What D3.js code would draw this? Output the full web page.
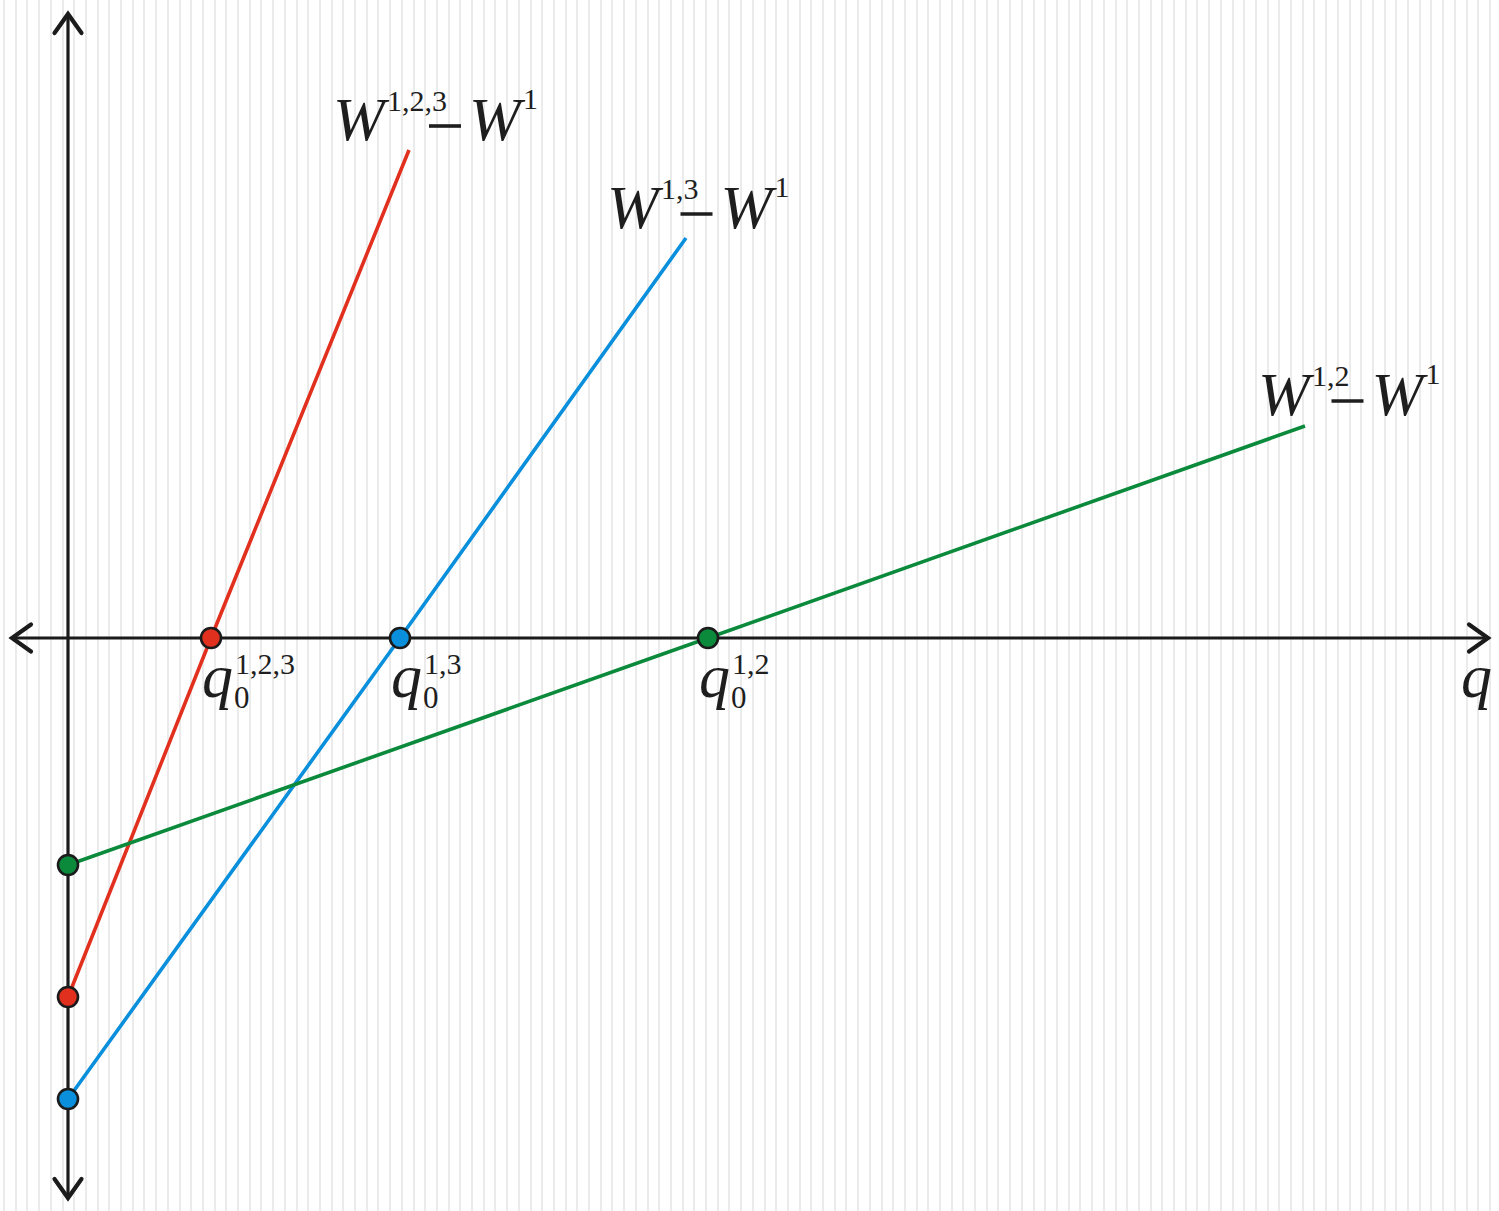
<!DOCTYPE html>
<html>
<head>
<meta charset="utf-8">
<script src="https://cdn.jsdelivr.net/npm/d3@7"></script>
<style>
  html, body { margin: 0; padding: 0; background: #ffffff; }
  svg { display: block; }
  .math { font-family: "Liberation Serif", "Tinos", "DejaVu Serif", serif; fill: #1e1e1e; }
</style>
</head>
<body>
<script>
// Payoff-difference lines W^{S} - W^{1} as functions of q
const seriesKeys   = ["1,2,3", "1,3", "1,2"];
const seriesColors = ["#e2301f", "#0a8fdc", "#0b8a3c"];
const intercepts   = [-3.59, -4.61, -2.27];   // value at q = 0
const roots        = [1.43, 3.32, 6.40];      // q0 where the difference is zero
const endQ         = [3.41, 6.18, 12.37];     // last q drawn
const endW         = [4.88, 4.00, 2.12];      // value at last q drawn

const W = 1499, H = 1211;
const svg = d3.select("body").append("svg").attr("width", W).attr("height", H);

const x = d3.scaleLinear().domain([0, 14.2]).range([68, 1488]);
const y = d3.scaleLinear().domain([-5.6, 6.24]).range([1198, 14]);

// striped paper background
svg.append("rect").attr("width", W).attr("height", H).attr("fill", "#ffffff");
svg.append("g").selectAll("rect")
  .data(d3.range(3, W, 11.7).map(Math.round))
  .join("rect")
  .attr("x", d => d).attr("y", 0)
  .attr("width", 2).attr("height", H)
  .attr("fill", "#ebebeb");

const ink = "#1b1b1b";
const axes = svg.append("g").attr("stroke", ink).attr("fill", "none")
  .attr("stroke-width", 3.2).attr("stroke-linecap", "round").attr("stroke-linejoin", "miter");

// axes
axes.append("line").attr("x1", x(0)).attr("x2", x(0)).attr("y1", y(6.24)).attr("y2", y(-5.6));
axes.append("line").attr("x1", 12).attr("x2", x(14.2)).attr("y1", y(0)).attr("y2", y(0));

// open arrowheads
const arm = 19, spread = 13.5;
function arrow(tx, ty, dx, dy) {
  // (dx,dy) unit vector pointing toward the tip
  const px = -dy, py = dx;
  const p = d3.path();
  p.moveTo(tx - dx * arm + px * spread, ty - dy * arm + py * spread);
  p.lineTo(tx, ty);
  p.lineTo(tx - dx * arm - px * spread, ty - dy * arm - py * spread);
  axes.append("path").attr("d", p.toString()).attr("stroke-width", 4.2);
}
arrow(x(0), y(6.24), 0, -1);
arrow(x(0), y(-5.6), 0, 1);
arrow(x(14.2), y(0), 1, 0);
arrow(12, y(0), -1, 0);

// lines
const lineGen = d3.line().x(d => x(d[0])).y(d => y(d[1]));
const lines = seriesKeys.map((k, i) => ({
  key: k, color: seriesColors[i],
  pts: [[0, intercepts[i]], [roots[i], 0], [endQ[i], endW[i]]]
}));
svg.append("g").selectAll("path")
  .data(lines)
  .join("path")
  .attr("d", d => lineGen(d.pts))
  .attr("fill", "none")
  .attr("stroke", d => d.color)
  .attr("stroke-width", 3.6);

// dots at intercepts and roots
const dots = [];
lines.forEach((d, i) => {
  dots.push({ q: 0, w: intercepts[i], color: d.color });
  dots.push({ q: roots[i], w: 0, color: d.color });
});
svg.append("g").selectAll("circle")
  .data(dots)
  .join("circle")
  .attr("cx", d => x(d.q)).attr("cy", d => y(d.w))
  .attr("r", 10)
  .attr("fill", d => d.color)
  .attr("stroke", ink).attr("stroke-width", 2.6);

// typography
const textG = svg.append("g").attr("class", "math");

function wLabel(x0, base, sup) {
  const t = textG.append("text").attr("y", base);
  t.append("tspan").attr("x", x0).attr("y", base)
    .style("font-style", "italic").style("font-size", "62px").text("W");
  const s = t.append("tspan").attr("x", x0 + 54).attr("y", base - 29)
    .style("font-size", "30px").text(sup);
  const sw = s.node().getComputedTextLength();
  const x2 = x0 + 54 + sw + 22;
  t.append("tspan").attr("x", x2).attr("y", base)
    .style("font-style", "italic").style("font-size", "62px").text("W");
  t.append("tspan").attr("x", x2 + 54).attr("y", base - 31)
    .style("font-size", "30px").text("1");
  textG.append("line")
    .attr("x1", x2 - 40).attr("x2", x2 - 8)
    .attr("y1", base - 14).attr("y2", base - 14)
    .attr("stroke", "#1e1e1e").attr("stroke-width", 3.6);
}

function qLabel(xq, sup) {
  const base = y(0) + 59;
  const t = textG.append("text").attr("y", base);
  t.append("tspan").attr("x", xq - 9).attr("y", base)
    .style("font-style", "italic").style("font-size", "62px").text("q");
  t.append("tspan").attr("x", xq + 23).attr("y", base + 11)
    .style("font-size", "31px").text("0");
  t.append("tspan").attr("x", xq + 24).attr("y", base - 23)
    .style("font-size", "30px").text(sup);
}

const labelAt = [[333, 140], [607, 228], [1258, 415]];
lines.forEach((d, i) => {
  wLabel(labelAt[i][0], labelAt[i][1], d.key);
  qLabel(x(roots[i]), d.key);
});

// axis name
textG.append("text").attr("x", 1461).attr("y", y(0) + 59)
  .style("font-style", "italic").style("font-size", "62px").text("q");
</script>
</body>
</html>
